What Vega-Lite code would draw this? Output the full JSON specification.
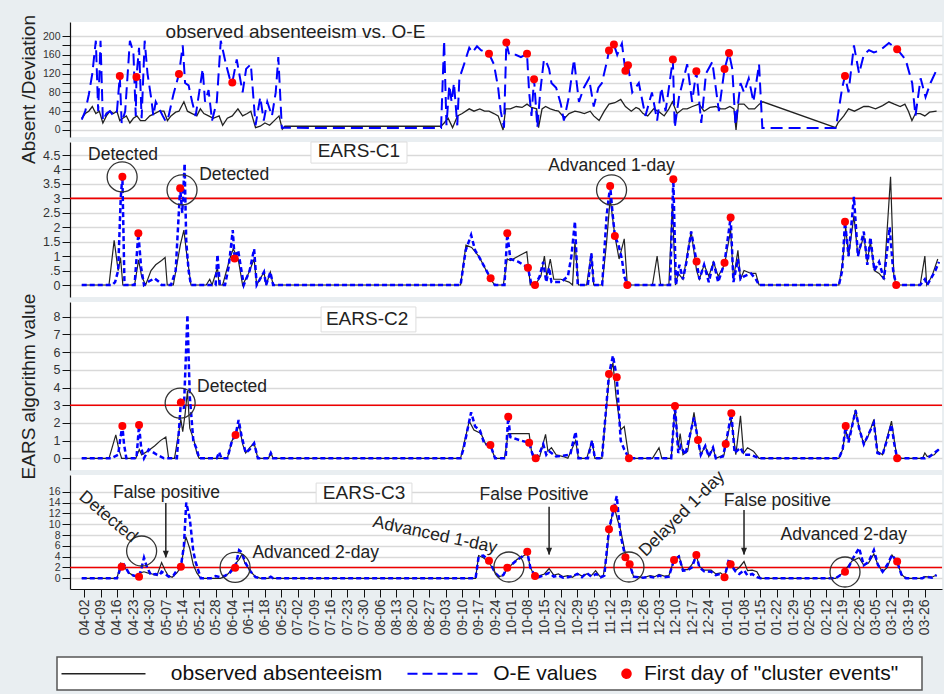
{
"$schema": "https://vega.github.io/schema/vega-lite/v6.json",
"background": "#e9eef1",
"padding": {"left": 18, "top": 14, "right": 0, "bottom": 3},
"config": {
  "view": {"fill": "white", "stroke": null},
  "font": "Liberation Sans",
  "axis": {"domainColor": "#111", "tickColor": "#111", "labelColor": "#333", "labelFont": "Liberation Sans", "titleFont": "Liberation Sans", "titleFontWeight": "normal", "titleColor": "#222", "gridColor": "#d9d9d9", "gridWidth": 1.5, "tickSize": 8, "labelPadding": 2, "domainWidth": 1.2},
  "text": {"font": "Liberation Sans", "color": "#222"}
},
"datasets": {
"p1obs": [{"d":-1,"v":25},{"d":0.5,"v":35},{"d":2,"v":40},{"d":3.5,"v":50},{"d":5,"v":35},{"d":6.5,"v":40},{"d":8,"v":15},{"d":9.5,"v":30},{"d":11,"v":40},{"d":12.5,"v":35},{"d":14,"v":40},{"d":15.2,"v":20},{"d":16.5,"v":25},{"d":18,"v":30},{"d":19.5,"v":15},{"d":21,"v":25},{"d":22.5,"v":30},{"d":24,"v":20},{"d":26,"v":20},{"d":28,"v":30},{"d":30,"v":35},{"d":32,"v":40},{"d":34,"v":40},{"d":35.5,"v":20},{"d":37,"v":30},{"d":39,"v":38},{"d":40.4,"v":40},{"d":42.5,"v":60},{"d":44,"v":40},{"d":46,"v":35},{"d":48,"v":30},{"d":49.5,"v":45},{"d":51,"v":35},{"d":53,"v":30},{"d":55,"v":25},{"d":57.5,"v":30},{"d":59,"v":10},{"d":61,"v":25},{"d":63.1,"v":30},{"d":65.5,"v":45},{"d":67.5,"v":30},{"d":69.5,"v":35},{"d":71,"v":40},{"d":73,"v":5},{"d":75,"v":8},{"d":77,"v":15},{"d":79,"v":10},{"d":81,"v":20},{"d":83,"v":30},{"d":84.4,"v":2},{"d":85.5,"v":8},{"d":100,"v":8},{"d":120,"v":8},{"d":140,"v":8},{"d":152,"v":8},{"d":153.3,"v":15},{"d":155,"v":25},{"d":156.9,"v":5},{"d":159,"v":30},{"d":161,"v":35},{"d":164,"v":45},{"d":166,"v":40},{"d":168.5,"v":45},{"d":170.5,"v":40},{"d":172.4,"v":40},{"d":174.5,"v":35},{"d":176.3,"v":30},{"d":178.4,"v":0},{"d":179.5,"v":45},{"d":181.5,"v":45},{"d":184,"v":50},{"d":186.5,"v":48},{"d":188.6,"v":55},{"d":190.5,"v":48},{"d":192.7,"v":45},{"d":193.5,"v":5},{"d":195,"v":45},{"d":196.5,"v":50},{"d":198.5,"v":45},{"d":200.5,"v":42},{"d":202,"v":40},{"d":204.6,"v":25},{"d":206.5,"v":35},{"d":209,"v":40},{"d":211,"v":38},{"d":213,"v":35},{"d":215.5,"v":40},{"d":217,"v":30},{"d":219.3,"v":20},{"d":221.5,"v":40},{"d":223.5,"v":55},{"d":226,"v":58},{"d":228.5,"v":65},{"d":230.5,"v":50},{"d":233,"v":40},{"d":235,"v":48},{"d":236.3,"v":45},{"d":238,"v":35},{"d":240,"v":30},{"d":242.5,"v":45},{"d":245,"v":38},{"d":247,"v":30},{"d":249,"v":45},{"d":250.5,"v":60},{"d":252.5,"v":35},{"d":255,"v":45},{"d":256.8,"v":45},{"d":259,"v":50},{"d":261.8,"v":55},{"d":264,"v":40},{"d":266.5,"v":48},{"d":269,"v":50},{"d":271,"v":45},{"d":273,"v":45},{"d":275,"v":50},{"d":276.7,"v":45},{"d":277.6,"v":0},{"d":278.6,"v":55},{"d":281,"v":55},{"d":283,"v":45},{"d":285.5,"v":45},{"d":287.5,"v":55},{"d":289,"v":60},{"d":320,"v":5},{"d":321,"v":15},{"d":323.5,"v":30},{"d":325.5,"v":45},{"d":328,"v":40},{"d":330,"v":45},{"d":332,"v":50},{"d":334,"v":50},{"d":337,"v":45},{"d":340,"v":52},{"d":342.7,"v":60},{"d":345,"v":55},{"d":347.5,"v":50},{"d":349.5,"v":55},{"d":351,"v":40},{"d":352.5,"v":20},{"d":354,"v":35},{"d":356,"v":35},{"d":358,"v":30},{"d":360,"v":38},{"d":363,"v":40}],
"p1oe": [{"d":-1,"v":22},{"d":0.5,"v":40},{"d":2,"v":75},{"d":3.5,"v":120},{"d":5,"v":190},{"d":6,"v":40},{"d":7,"v":190},{"d":8,"v":20},{"d":9.5,"v":35},{"d":11,"v":40},{"d":12.5,"v":30},{"d":14,"v":40},{"d":15.2,"v":115},{"d":16,"v":15},{"d":17.5,"v":40},{"d":19.5,"v":190},{"d":21,"v":165},{"d":22,"v":30},{"d":22.3,"v":113},{"d":23.4,"v":175},{"d":24.5,"v":25},{"d":25.8,"v":190},{"d":27,"v":120},{"d":28.5,"v":70},{"d":29.5,"v":30},{"d":30.5,"v":60},{"d":32,"v":45},{"d":33.5,"v":30},{"d":34.8,"v":18},{"d":36,"v":30},{"d":38,"v":75},{"d":40.4,"v":119},{"d":42,"v":180},{"d":43,"v":100},{"d":44.5,"v":95},{"d":46,"v":60},{"d":47.5,"v":30},{"d":49,"v":80},{"d":50.5,"v":130},{"d":51.5,"v":60},{"d":53,"v":85},{"d":54.5,"v":20},{"d":56.5,"v":60},{"d":58.2,"v":190},{"d":60.4,"v":140},{"d":62,"v":110},{"d":63.1,"v":101},{"d":65,"v":150},{"d":67.5,"v":80},{"d":69,"v":130},{"d":71,"v":140},{"d":73,"v":10},{"d":75,"v":70},{"d":76.5,"v":20},{"d":78,"v":60},{"d":80,"v":30},{"d":81.6,"v":80},{"d":82.7,"v":155},{"d":84.2,"v":5},{"d":100,"v":4},{"d":130,"v":4},{"d":152,"v":4},{"d":153.3,"v":190},{"d":154.3,"v":10},{"d":155.5,"v":95},{"d":156.5,"v":60},{"d":157.5,"v":100},{"d":158.9,"v":10},{"d":159.8,"v":110},{"d":161.8,"v":140},{"d":164,"v":175},{"d":165.3,"v":165},{"d":167.3,"v":178},{"d":169,"v":170},{"d":172.4,"v":162},{"d":174.5,"v":140},{"d":176.3,"v":90},{"d":177.4,"v":40},{"d":178.8,"v":5},{"d":179.8,"v":186},{"d":181,"v":160},{"d":183.8,"v":160},{"d":186,"v":155},{"d":188.6,"v":162},{"d":189.5,"v":80},{"d":190.5,"v":30},{"d":191.6,"v":108},{"d":193,"v":5},{"d":194.2,"v":80},{"d":195.8,"v":150},{"d":197.2,"v":140},{"d":198,"v":130},{"d":199,"v":100},{"d":201,"v":90},{"d":203,"v":55},{"d":204.3,"v":20},{"d":206.4,"v":70},{"d":208.6,"v":150},{"d":210.7,"v":60},{"d":212.8,"v":90},{"d":215,"v":110},{"d":217,"v":50},{"d":219,"v":90},{"d":220.5,"v":100},{"d":222.8,"v":150},{"d":223.5,"v":169},{"d":225.6,"v":182},{"d":227,"v":160},{"d":229,"v":184},{"d":230.5,"v":126},{"d":231.6,"v":138},{"d":233.4,"v":80},{"d":236.2,"v":100},{"d":239,"v":30},{"d":241.8,"v":80},{"d":244,"v":20},{"d":245.8,"v":90},{"d":247.6,"v":40},{"d":250.7,"v":150},{"d":251.5,"v":5},{"d":253.3,"v":70},{"d":256.8,"v":140},{"d":258.9,"v":60},{"d":260.7,"v":125},{"d":262.8,"v":15},{"d":264.8,"v":120},{"d":267.5,"v":145},{"d":270.3,"v":40},{"d":272.7,"v":130},{"d":274.6,"v":164},{"d":276,"v":130},{"d":277.4,"v":10},{"d":279.5,"v":100},{"d":281,"v":80},{"d":283,"v":110},{"d":285,"v":60},{"d":287.4,"v":140},{"d":288.8,"v":4},{"d":305,"v":4},{"d":320,"v":4},{"d":320.6,"v":20},{"d":322.8,"v":90},{"d":324,"v":115},{"d":325.5,"v":80},{"d":327.8,"v":180},{"d":330,"v":120},{"d":332,"v":160},{"d":334.2,"v":170},{"d":336.3,"v":165},{"d":339.1,"v":170},{"d":342.7,"v":185},{"d":346.2,"v":172},{"d":349.8,"v":150},{"d":352.6,"v":100},{"d":354,"v":30},{"d":356.2,"v":110},{"d":358.3,"v":70},{"d":360.4,"v":100},{"d":363.2,"v":130}],
"p1pts": [{"d":15.2,"v":115},{"d":22.3,"v":113},{"d":40.4,"v":119},{"d":63.1,"v":101},{"d":172.4,"v":162},{"d":179.8,"v":186},{"d":188.6,"v":162},{"d":191.6,"v":108},{"d":223.5,"v":169},{"d":225.6,"v":182},{"d":230.5,"v":126},{"d":231.6,"v":138},{"d":250.7,"v":150},{"d":260.7,"v":125},{"d":272.7,"v":130},{"d":274.6,"v":164},{"d":324,"v":115},{"d":346.2,"v":172}],
"c1obs": [{"d":-1,"v":0},{"d":10.6,"v":0},{"d":12.8,"v":1.55},{"d":14.5,"v":0.5},{"d":15.5,"v":0.95},{"d":16.5,"v":0},{"d":21.5,"v":0},{"d":23.2,"v":0.87},{"d":24.5,"v":0.3},{"d":26.2,"v":0},{"d":28.5,"v":0.5},{"d":30.5,"v":0.7},{"d":33,"v":0.85},{"d":34.5,"v":0.95},{"d":35.4,"v":0},{"d":38,"v":0},{"d":41,"v":1.4},{"d":42.5,"v":1.9},{"d":43.5,"v":1.2},{"d":45.5,"v":0},{"d":52,"v":0},{"d":53.5,"v":0.2},{"d":54.5,"v":0},{"d":56.8,"v":0.6},{"d":57.5,"v":0},{"d":59,"v":0},{"d":62,"v":0.9},{"d":63.5,"v":1.25},{"d":65.6,"v":0.9},{"d":67.5,"v":0},{"d":70,"v":0.4},{"d":72.4,"v":0.9},{"d":73.5,"v":0},{"d":76.6,"v":0.45},{"d":77.5,"v":0},{"d":79.3,"v":0.45},{"d":80.5,"v":0},{"d":160.3,"v":0},{"d":162.6,"v":1.38},{"d":165,"v":1.3},{"d":168,"v":1},{"d":170,"v":0.7},{"d":173,"v":0.2},{"d":174.9,"v":0},{"d":178.5,"v":0},{"d":180.2,"v":0.9},{"d":181.5,"v":0.85},{"d":186,"v":1.05},{"d":188.5,"v":1.15},{"d":190,"v":0},{"d":192,"v":0},{"d":194.5,"v":0.3},{"d":196,"v":1},{"d":197,"v":0.3},{"d":198.5,"v":0.9},{"d":200,"v":0.2},{"d":203,"v":0.2},{"d":206.5,"v":0.1},{"d":208,"v":0},{"d":209,"v":1.5},{"d":210.5,"v":0},{"d":214,"v":0},{"d":216,"v":1.1},{"d":217,"v":0},{"d":220.6,"v":0},{"d":222.5,"v":1.5},{"d":224,"v":3},{"d":226,"v":1.7},{"d":227.8,"v":0.9},{"d":230,"v":1.6},{"d":231.3,"v":0},{"d":242,"v":0},{"d":244,"v":1},{"d":245.5,"v":0},{"d":249,"v":0},{"d":250.5,"v":2.8},{"d":251.8,"v":0},{"d":253,"v":0.4},{"d":255,"v":0.2},{"d":258.5,"v":1.85},{"d":260.8,"v":0.5},{"d":262,"v":0.2},{"d":264,"v":0.7},{"d":266,"v":0.3},{"d":268,"v":0.8},{"d":270,"v":0.3},{"d":272.7,"v":0.7},{"d":275.3,"v":1.9},{"d":276.5,"v":0.2},{"d":278.4,"v":1.2},{"d":279.5,"v":0.2},{"d":281,"v":0.5},{"d":284,"v":0.4},{"d":286,"v":0.4},{"d":287.4,"v":0},{"d":321.4,"v":0},{"d":323,"v":0.8},{"d":324.3,"v":2},{"d":325.5,"v":1},{"d":327.8,"v":2.4},{"d":329.5,"v":1},{"d":332,"v":1.7},{"d":333.5,"v":0.8},{"d":334.8,"v":1.5},{"d":336.5,"v":0.5},{"d":338.5,"v":0.4},{"d":340.6,"v":0.2},{"d":343.4,"v":3.75},{"d":344.8,"v":0.3},{"d":345.8,"v":0},{"d":356,"v":0},{"d":358,"v":1},{"d":358.8,"v":0},{"d":361,"v":0.3},{"d":363.5,"v":0.9}],
"c1oe": [{"d":-1,"v":0},{"d":12,"v":0},{"d":13.2,"v":0.1},{"d":14.5,"v":0.5},{"d":15.6,"v":3},{"d":16.3,"v":3.75},{"d":17.2,"v":0},{"d":21.5,"v":0},{"d":23.1,"v":1.79},{"d":24.3,"v":0.6},{"d":25.5,"v":0},{"d":27,"v":0.1},{"d":30,"v":0.23},{"d":32,"v":0.1},{"d":33,"v":0},{"d":37,"v":0},{"d":39,"v":0.5},{"d":40.9,"v":3.35},{"d":41.8,"v":2.5},{"d":42.8,"v":4.2},{"d":43.5,"v":1.5},{"d":44.5,"v":0.5},{"d":45.5,"v":0},{"d":56,"v":0},{"d":56.8,"v":1.05},{"d":57.8,"v":0},{"d":60,"v":0},{"d":61.5,"v":0.6},{"d":62.5,"v":1.3},{"d":63.3,"v":1.9},{"d":64.1,"v":0.92},{"d":65.6,"v":1.2},{"d":68,"v":0},{"d":70.5,"v":0.5},{"d":72.4,"v":1.25},{"d":73.5,"v":0},{"d":76.6,"v":0.45},{"d":77.5,"v":0},{"d":79.3,"v":0.45},{"d":80.5,"v":0},{"d":160.3,"v":0},{"d":162.5,"v":1.2},{"d":164.8,"v":1.73},{"d":166.5,"v":1.2},{"d":168,"v":1},{"d":170,"v":0.7},{"d":173.1,"v":0.23},{"d":174.9,"v":0},{"d":179,"v":0},{"d":180.2,"v":1.79},{"d":181.5,"v":0.9},{"d":185,"v":0.8},{"d":189,"v":0.6},{"d":190.5,"v":0},{"d":192,"v":0},{"d":194,"v":0.3},{"d":195.5,"v":0.8},{"d":196.8,"v":0.1},{"d":198,"v":0.6},{"d":199,"v":0.1},{"d":203,"v":0.1},{"d":206,"v":0.3},{"d":207.5,"v":1},{"d":209,"v":2.2},{"d":210.2,"v":0},{"d":214.5,"v":0},{"d":216,"v":1.1},{"d":217,"v":0},{"d":220.6,"v":0},{"d":222.5,"v":2.4},{"d":224,"v":3.43},{"d":225,"v":2.5},{"d":226,"v":1.7},{"d":227.5,"v":1.4},{"d":229,"v":0.9},{"d":230,"v":0.3},{"d":231.3,"v":0},{"d":249.5,"v":0},{"d":250.9,"v":3.66},{"d":252,"v":0},{"d":253.5,"v":0.7},{"d":255,"v":0.2},{"d":256.5,"v":0.8},{"d":258.5,"v":1.85},{"d":260.8,"v":0.81},{"d":262,"v":0.2},{"d":264,"v":0.7},{"d":266,"v":0.1},{"d":268,"v":0.8},{"d":270,"v":0.1},{"d":272.7,"v":0.77},{"d":275.3,"v":2.34},{"d":276.5,"v":0.1},{"d":278.4,"v":0.9},{"d":279.5,"v":0.2},{"d":281,"v":0.3},{"d":284,"v":0.4},{"d":286,"v":0.2},{"d":287.4,"v":0},{"d":321.4,"v":0},{"d":322.8,"v":0.5},{"d":324,"v":2.19},{"d":325.5,"v":1},{"d":327.8,"v":3.05},{"d":329.5,"v":1},{"d":332,"v":1.85},{"d":333.5,"v":0.7},{"d":334.8,"v":1.65},{"d":336.5,"v":0.5},{"d":338.5,"v":0.8},{"d":340.6,"v":0.2},{"d":343,"v":2},{"d":344.5,"v":0.5},{"d":345.8,"v":0},{"d":356,"v":0},{"d":358,"v":0.2},{"d":359,"v":0},{"d":362.5,"v":0.5},{"d":364,"v":0.8}],
"c1pts": [{"d":16.3,"v":3.75},{"d":23.1,"v":1.79},{"d":40.9,"v":3.35},{"d":64.1,"v":0.92},{"d":173.1,"v":0.23},{"d":180.2,"v":1.79},{"d":189,"v":0.6},{"d":192,"v":0},{"d":224,"v":3.43},{"d":226,"v":1.7},{"d":231.3,"v":0},{"d":250.9,"v":3.66},{"d":260.8,"v":0.81},{"d":272.7,"v":0.77},{"d":275.3,"v":2.34},{"d":324,"v":2.19},{"d":345.8,"v":0}],
"c2obs": [{"d":-1,"v":0},{"d":10.6,"v":0},{"d":13.5,"v":1.32},{"d":14.8,"v":0.5},{"d":16,"v":0},{"d":22,"v":0},{"d":23.5,"v":0.5},{"d":24.5,"v":0.2},{"d":27,"v":0.4},{"d":30,"v":0.7},{"d":32.5,"v":1},{"d":34.8,"v":1.2},{"d":36,"v":0},{"d":38.5,"v":0},{"d":41.2,"v":2.2},{"d":42,"v":1.5},{"d":43,"v":2.5},{"d":44,"v":3.8},{"d":45,"v":1.7},{"d":46.8,"v":1},{"d":48,"v":0.3},{"d":49,"v":0},{"d":61,"v":0},{"d":63,"v":1},{"d":64.5,"v":1.3},{"d":66,"v":1.9},{"d":67.5,"v":0.8},{"d":68.8,"v":0.3},{"d":70.5,"v":0.6},{"d":72.4,"v":0.85},{"d":74,"v":0},{"d":78.5,"v":0},{"d":79.5,"v":0.3},{"d":80.5,"v":0},{"d":160.3,"v":0},{"d":164,"v":2.1},{"d":166,"v":1.6},{"d":169,"v":1.4},{"d":171,"v":0.8},{"d":173,"v":0.7},{"d":175,"v":0},{"d":179,"v":0},{"d":180.6,"v":1.4},{"d":181.5,"v":1.4},{"d":189.5,"v":1.4},{"d":190.5,"v":0.4},{"d":192.3,"v":0},{"d":194,"v":0.1},{"d":196.5,"v":1.35},{"d":197.5,"v":0.4},{"d":199,"v":0.6},{"d":201,"v":0.2},{"d":204,"v":0.1},{"d":206,"v":0},{"d":209.3,"v":1},{"d":210.5,"v":0},{"d":214,"v":0},{"d":216.3,"v":1},{"d":217.5,"v":0},{"d":220.5,"v":0},{"d":223.5,"v":4.5},{"d":225.2,"v":5.4},{"d":226.5,"v":3.5},{"d":228.5,"v":1.6},{"d":230,"v":1.8},{"d":232,"v":0},{"d":242,"v":0},{"d":244.8,"v":0.6},{"d":246,"v":0},{"d":250,"v":0},{"d":251.6,"v":2.9},{"d":253,"v":0.6},{"d":253.8,"v":1.4},{"d":255,"v":0.2},{"d":257,"v":0.4},{"d":259.7,"v":2.6},{"d":261.4,"v":1},{"d":262.6,"v":0.2},{"d":264.5,"v":0.7},{"d":266,"v":0.1},{"d":267.8,"v":0.6},{"d":269,"v":0},{"d":272.5,"v":0.2},{"d":273.2,"v":0.8},{"d":275.6,"v":2.2},{"d":277.5,"v":0.2},{"d":279.5,"v":2.4},{"d":280.8,"v":0.3},{"d":282.5,"v":0.6},{"d":285,"v":0.4},{"d":287.4,"v":0},{"d":321.4,"v":0},{"d":323,"v":0.5},{"d":324.3,"v":1.6},{"d":325.5,"v":1},{"d":328.5,"v":2.75},{"d":330,"v":1.7},{"d":332,"v":0.8},{"d":334,"v":1.3},{"d":336.3,"v":2.2},{"d":337.8,"v":0.4},{"d":340,"v":0.2},{"d":343.8,"v":2.1},{"d":345,"v":1},{"d":346.2,"v":0},{"d":357,"v":0},{"d":358,"v":0.3},{"d":359,"v":0.1},{"d":362,"v":0.2},{"d":364,"v":0.5}],
"c2oe": [{"d":-1,"v":0},{"d":11.5,"v":0},{"d":14.5,"v":0.2},{"d":15.3,"v":1},{"d":16.3,"v":1.85},{"d":17,"v":0.8},{"d":18,"v":0},{"d":22.3,"v":0},{"d":23.4,"v":1.88},{"d":24.3,"v":0.6},{"d":25.5,"v":0},{"d":27.5,"v":0.5},{"d":31,"v":0.2},{"d":34,"v":0},{"d":39.5,"v":0},{"d":40.5,"v":1.8},{"d":41.2,"v":3.16},{"d":42.5,"v":2.8},{"d":44,"v":8.1},{"d":45,"v":3.5},{"d":46.5,"v":1},{"d":48,"v":0.5},{"d":49,"v":0},{"d":56.5,"v":0},{"d":57.5,"v":0.35},{"d":58.5,"v":0},{"d":61,"v":0},{"d":63,"v":1},{"d":64.5,"v":1.32},{"d":65.8,"v":2.17},{"d":67,"v":1.3},{"d":68.8,"v":0.3},{"d":70.5,"v":0.5},{"d":72.4,"v":0.85},{"d":74,"v":0},{"d":78.5,"v":0},{"d":79.5,"v":0.3},{"d":80.5,"v":0},{"d":160.3,"v":0},{"d":161.5,"v":0.5},{"d":164.8,"v":2.6},{"d":166.5,"v":1.8},{"d":168.5,"v":1.6},{"d":170.5,"v":0.8},{"d":173,"v":0.75},{"d":175,"v":0},{"d":179.5,"v":0},{"d":180.6,"v":2.35},{"d":181.5,"v":1.2},{"d":186,"v":1},{"d":189.5,"v":0.88},{"d":191,"v":0.2},{"d":192.3,"v":0},{"d":194,"v":0.3},{"d":195.5,"v":0.8},{"d":196.8,"v":0.2},{"d":198,"v":0.4},{"d":201,"v":0.1},{"d":207,"v":0.2},{"d":208,"v":0.8},{"d":209.3,"v":1.5},{"d":210.5,"v":0},{"d":214.5,"v":0},{"d":216.3,"v":1},{"d":217.5,"v":0},{"d":220.5,"v":0},{"d":223.5,"v":4.76},{"d":225.2,"v":5.8},{"d":226.8,"v":4.58},{"d":228.5,"v":1},{"d":230,"v":0.5},{"d":232,"v":0},{"d":250,"v":0},{"d":251.6,"v":2.96},{"d":253,"v":0.3},{"d":254,"v":0.7},{"d":256,"v":0.2},{"d":259.7,"v":2.3},{"d":261.4,"v":1.04},{"d":262.6,"v":0.2},{"d":264.5,"v":0.7},{"d":266,"v":0.1},{"d":267.8,"v":0.6},{"d":269,"v":0},{"d":272,"v":0.1},{"d":273.2,"v":0.81},{"d":275.6,"v":2.54},{"d":277,"v":0.3},{"d":279.5,"v":0.6},{"d":281,"v":0.2},{"d":284,"v":0.2},{"d":287.4,"v":0},{"d":321.4,"v":0},{"d":323,"v":0.5},{"d":324.3,"v":1.83},{"d":325.5,"v":0.9},{"d":328.5,"v":2.7},{"d":330,"v":1.7},{"d":332,"v":0.8},{"d":334.5,"v":1.5},{"d":336.3,"v":2},{"d":337.8,"v":0.3},{"d":340,"v":0.2},{"d":343.8,"v":1.9},{"d":345,"v":0.8},{"d":346.2,"v":0},{"d":358,"v":0},{"d":360,"v":0.1},{"d":364,"v":0.5}],
"c2pts": [{"d":16.3,"v":1.83},{"d":23.4,"v":1.88},{"d":41.2,"v":3.16},{"d":64.5,"v":1.32},{"d":173,"v":0.75},{"d":180.6,"v":2.35},{"d":189.5,"v":0.88},{"d":192.3,"v":0},{"d":223.5,"v":4.76},{"d":226.8,"v":4.58},{"d":232,"v":0},{"d":251.6,"v":2.96},{"d":261.4,"v":1.04},{"d":273.2,"v":0.81},{"d":275.6,"v":2.54},{"d":324.3,"v":1.83},{"d":346.2,"v":0}],
"c3obs": [{"d":-1,"v":0},{"d":14,"v":0},{"d":15.6,"v":2.8},{"d":17,"v":2.2},{"d":19,"v":1},{"d":21,"v":0.5},{"d":22.6,"v":0.3},{"d":24,"v":1},{"d":25.5,"v":1.2},{"d":27,"v":1},{"d":29,"v":0.8},{"d":31,"v":0.5},{"d":33,"v":2.9},{"d":34.5,"v":1.5},{"d":35.8,"v":0.5},{"d":37.5,"v":0.2},{"d":39.5,"v":1},{"d":41.2,"v":2},{"d":43.3,"v":7.7},{"d":45,"v":5.5},{"d":46.5,"v":2.5},{"d":48,"v":1},{"d":49.7,"v":0},{"d":58,"v":0},{"d":60,"v":0.3},{"d":61.7,"v":1},{"d":63.5,"v":2.2},{"d":66,"v":3.5},{"d":67.2,"v":4.4},{"d":68.5,"v":2.8},{"d":71,"v":1.2},{"d":73,"v":0.3},{"d":75.2,"v":0},{"d":78.5,"v":0},{"d":79.5,"v":0.3},{"d":80.5,"v":0},{"d":166.7,"v":0},{"d":168,"v":4.2},{"d":170,"v":3.8},{"d":172.4,"v":3},{"d":175,"v":1},{"d":176.7,"v":0.3},{"d":178.5,"v":0.5},{"d":180.2,"v":1.8},{"d":182,"v":2.5},{"d":184.4,"v":3.5},{"d":186.5,"v":4},{"d":188.7,"v":4.6},{"d":190,"v":2},{"d":192,"v":0.3},{"d":194,"v":0.5},{"d":196,"v":0.8},{"d":198,"v":1.8},{"d":200,"v":0.6},{"d":202,"v":0.8},{"d":204,"v":0.3},{"d":206,"v":0.5},{"d":208,"v":0.2},{"d":210,"v":0.9},{"d":212,"v":0.4},{"d":214,"v":0.8},{"d":216,"v":0.5},{"d":217.8,"v":1.4},{"d":219.5,"v":0.4},{"d":221,"v":0.3},{"d":222.5,"v":4},{"d":223.5,"v":8.5},{"d":225.6,"v":13.5},{"d":227,"v":11},{"d":228.4,"v":9},{"d":230.5,"v":4.5},{"d":232.3,"v":2.4},{"d":234,"v":0.3},{"d":236,"v":0.3},{"d":238,"v":0.1},{"d":241,"v":0.5},{"d":243,"v":0.3},{"d":244.8,"v":0.7},{"d":247,"v":0.4},{"d":249,"v":0.5},{"d":251.2,"v":3.4},{"d":253.3,"v":4.2},{"d":255,"v":1.6},{"d":257,"v":1.6},{"d":258.8,"v":2.5},{"d":260.7,"v":4.2},{"d":262,"v":2.2},{"d":264,"v":1.5},{"d":267,"v":1.5},{"d":269,"v":0.8},{"d":271,"v":1},{"d":272.7,"v":0.4},{"d":274.6,"v":3},{"d":275.3,"v":2.4},{"d":277.5,"v":1.5},{"d":279,"v":2},{"d":281,"v":3.1},{"d":282.5,"v":1.4},{"d":284.5,"v":1.5},{"d":286.5,"v":1.2},{"d":288,"v":0},{"d":320,"v":0},{"d":322.8,"v":0.9},{"d":324,"v":1.5},{"d":327,"v":3.2},{"d":330,"v":3.8},{"d":332,"v":2.4},{"d":334,"v":2.8},{"d":336.3,"v":4.5},{"d":338,"v":2.5},{"d":340,"v":1.2},{"d":342,"v":2},{"d":344,"v":4.3},{"d":346.2,"v":3},{"d":348,"v":0.7},{"d":350,"v":0},{"d":357,"v":0},{"d":358,"v":0.3},{"d":361,"v":0.2},{"d":363,"v":0.6}],
"c3oe": [{"d":-1,"v":0},{"d":14,"v":0},{"d":15.2,"v":1.5},{"d":16,"v":2.15},{"d":17,"v":2.5},{"d":19,"v":1},{"d":21,"v":0.5},{"d":23.4,"v":0.3},{"d":24.5,"v":2},{"d":25.5,"v":3.8},{"d":26.8,"v":2},{"d":28.5,"v":0.6},{"d":30.5,"v":0.8},{"d":32,"v":0.5},{"d":33,"v":1.2},{"d":34.5,"v":0.8},{"d":36,"v":0.3},{"d":38,"v":0.5},{"d":39.5,"v":1.5},{"d":41.2,"v":2.15},{"d":42.5,"v":6},{"d":43.5,"v":14},{"d":45,"v":11},{"d":46.5,"v":5},{"d":47.5,"v":3},{"d":49.7,"v":0},{"d":54,"v":0},{"d":56,"v":0.4},{"d":58,"v":0.2},{"d":60,"v":0.5},{"d":61.7,"v":0.8},{"d":63,"v":1.5},{"d":64.3,"v":1.97},{"d":66,"v":5.2},{"d":67.2,"v":4.8},{"d":68.5,"v":3},{"d":71,"v":1.2},{"d":73,"v":0.2},{"d":75.2,"v":0},{"d":78.5,"v":0},{"d":79.5,"v":0.3},{"d":80.5,"v":0},{"d":166.7,"v":0},{"d":168,"v":4},{"d":170,"v":4.2},{"d":172.4,"v":3.26},{"d":175,"v":1},{"d":176.7,"v":0.3},{"d":178.5,"v":0.6},{"d":180.2,"v":1.97},{"d":182,"v":2.5},{"d":184.4,"v":3.4},{"d":186.5,"v":4},{"d":188.7,"v":4.92},{"d":190,"v":2},{"d":192,"v":0.43},{"d":193.5,"v":0.2},{"d":196,"v":0.6},{"d":198,"v":1},{"d":200,"v":0.3},{"d":202,"v":0.5},{"d":204,"v":0.1},{"d":206,"v":0.2},{"d":208,"v":0.4},{"d":210,"v":0.8},{"d":212,"v":0.2},{"d":214,"v":1},{"d":216,"v":0.3},{"d":218,"v":0.8},{"d":220,"v":0.2},{"d":221.5,"v":0.5},{"d":223.5,"v":9.05},{"d":225.6,"v":12.9},{"d":226.8,"v":15.2},{"d":228.4,"v":8},{"d":230.5,"v":3.88},{"d":232.3,"v":2.58},{"d":234,"v":0.3},{"d":236,"v":0.2},{"d":238,"v":0.1},{"d":241,"v":0.3},{"d":243,"v":0.1},{"d":244.8,"v":0.5},{"d":247,"v":0.2},{"d":249,"v":0.3},{"d":251.2,"v":3.38},{"d":253.3,"v":4},{"d":255,"v":1.4},{"d":257,"v":1.5},{"d":258.8,"v":2},{"d":260.7,"v":4.3},{"d":262,"v":2},{"d":264,"v":1.3},{"d":267,"v":1.2},{"d":269,"v":0.6},{"d":271,"v":0.8},{"d":272.7,"v":0.18},{"d":274.6,"v":3.6},{"d":275.3,"v":2.58},{"d":277.5,"v":1.2},{"d":279,"v":0.8},{"d":281,"v":1.5},{"d":282.5,"v":0.5},{"d":284.5,"v":0.8},{"d":286.5,"v":0.2},{"d":288,"v":0},{"d":320,"v":0},{"d":322.8,"v":0.8},{"d":324,"v":1.23},{"d":325.5,"v":2},{"d":327,"v":3.4},{"d":330,"v":5.6},{"d":332,"v":2.4},{"d":334,"v":3},{"d":336.3,"v":5.2},{"d":338,"v":2.5},{"d":340,"v":1.2},{"d":342,"v":2.5},{"d":344,"v":4.3},{"d":346.2,"v":3.08},{"d":348,"v":0.7},{"d":350,"v":0},{"d":357,"v":0},{"d":358,"v":0.3},{"d":361,"v":0.1},{"d":363,"v":0.6}],
"c3pts": [{"d":16,"v":2.15},{"d":23.4,"v":0.3},{"d":41.2,"v":2.15},{"d":64.3,"v":1.97},{"d":172.4,"v":3.26},{"d":180.2,"v":1.97},{"d":188.7,"v":4.92},{"d":192,"v":0.43},{"d":223.5,"v":9.05},{"d":225.6,"v":12.9},{"d":230.5,"v":3.88},{"d":232.3,"v":2.58},{"d":251.2,"v":3.38},{"d":260.7,"v":4.3},{"d":272.7,"v":0.18},{"d":275.3,"v":2.58},{"d":324,"v":1.23},{"d":346.2,"v":3.08}]
},
"vconcat": [
{
  "width": 872, "height": 115,
  "encoding": {
    "x": {"field": "d", "type": "quantitative", "scale": {"domain": [-6, 365.3], "nice": false, "zero": false}, "axis": null},
    "y": {"field": "v", "type": "quantitative", "scale": {"domain": [-14.9, 229.8], "nice": false, "zero": false},
          "axis": {"values": [0,20,40,60,80,100,120,140,160,180,200], "title": "Absent /Deviation", "titleFontSize": 19, "labelFontSize": 10.5, "minExtent": 28, "maxExtent": 28, "titlePadding": 4, "titleY": 67, "grid": true}}
  },
  "layer": [
    {"data": {"name": "p1obs"}, "mark": {"type": "line", "strokeWidth": 1.3},
     "encoding": {"color": {"datum": "observed absenteeism", "type": "nominal",
        "scale": {"domain": ["observed absenteeism", "O-E values", "First day of \"cluster events\""], "range": ["#222222", "#0000ff", "#ff0000"]},
        "legend": {"orient": "none", "legendX": -13, "legendY": 635, "direction": "horizontal", "columns": 3, "title": null,
          "labelFont": "Liberation Sans", "labelFontSize": 21, "labelColor": "#111", "labelLimit": 600, "labelOffset": 11,
          "labelExpr": "datum.value === 'observed absenteeism' ? '\u200b\u00a0\u00a0\u00a0\u00a0\u00a0\u00a0\u00a0\u00a0\u00a0\u00a0\u00a0\u00a0\u00a0observed absenteeism' : datum.value === 'O-E values' ? '\u200b\u00a0\u00a0\u00a0\u00a0\u00a0\u00a0\u00a0\u00a0\u00a0\u00a0\u00a0O-E values' : datum.label + '\u00a0\u00a0\u00a0\u200b'",
          "symbolSize": 4096, "columnPadding": 14, "padding": 6, "strokeColor": "#555", "fillColor": "#ffffff", "symbolStrokeWidth": 1.6,
          "encode": {
            "legend": {"update": {"stroke": {"value": "#555555"}, "strokeWidth": {"value": 1.5}, "fill": {"value": "#ffffff"}}},
            "symbols": {"update": {
            "shape": {"signal": "datum.value === 'observed absenteeism' ? 'M-0.375,0H2.25' : datum.value === 'O-E values' ? 'M0,0H2.34' : 'M0.265,0A0.14,0.14,0,1,1,-0.015,0A0.14,0.14,0,1,1,0.265,0Z'"},
            "fill": {"signal": "datum.value === 'observed absenteeism' || datum.value === 'O-E values' ? 'transparent' : '#ff0000'"},
            "stroke": {"signal": "datum.value === 'observed absenteeism' ? '#222222' : datum.value === 'O-E values' ? '#0000ff' : 'transparent'"},
            "strokeDash": {"signal": "datum.value === 'O-E values' ? [10,5] : [1,0]"},
            "strokeWidth": {"signal": "datum.value === 'O-E values' ? 2.2 : 1.5"},
            "opacity": {"value": 1}
          }}}}}}},
    {"data": {"name": "p1oe"}, "mark": {"type": "line", "strokeWidth": 2, "strokeDash": [12, 6]},
     "encoding": {"color": {"datum": "O-E values", "type": "nominal"}}},
    {"data": {"name": "p1pts"}, "mark": {"type": "circle", "size": 64, "opacity": 1},
     "encoding": {"color": {"datum": "First day of \"cluster events\"", "type": "nominal"}}},
    {"data": {"values": [{"d": 90, "v": 208, "t": "observed absenteeism vs. O-E"}]}, "mark": {"type": "text", "fontSize": 19},
     "encoding": {"text": {"field": "t"}}}
  ]
},
{
  "width": 872, "height": 155,
  "encoding": {
    "x": {"field": "d", "type": "quantitative", "scale": {"domain": [-6, 365.3], "nice": false, "zero": false}, "axis": null},
    "y": {"field": "v", "type": "quantitative", "scale": {"domain": [-0.415, 4.95], "nice": false, "zero": false},
          "axis": {"values": [0,0.5,1,1.5,2,2.5,3,3.5,4,4.5], "labelExpr": "datum.value == 0.5 ? '.5' : format(datum.value, '~g')", "title": "\u00a0", "titleFontSize": 19, "labelFontSize": 12.5, "minExtent": 28, "maxExtent": 28, "titlePadding": 4, "grid": true}}
  },
  "layer": [
    {"data": {"values": [{"d": 96.6, "d2": 137.5, "v": 4.95, "v2": 4.22}]}, "mark": {"type": "rect", "fill": "#ffffff", "stroke": "#dddddd", "strokeWidth": 1}, "encoding": {"x2": {"field": "d2"}, "y2": {"field": "v2"}}},
    {"data": {"values": [{"d": -6, "v": 3}, {"d": 365.3, "v": 3}]}, "mark": {"type": "line", "color": "#ee0000", "strokeWidth": 1.6}, "encoding": {}},
    {"data": {"name": "c1obs"}, "mark": {"type": "line", "color": "#222222", "strokeWidth": 1.2}, "encoding": {}},
    {"data": {"name": "c1oe"}, "mark": {"type": "line", "color": "#0000ff", "strokeWidth": 2.5, "strokeDash": [5, 3]}, "encoding": {}},
    {"data": {"name": "c1pts"}, "mark": {"type": "circle", "size": 64, "opacity": 1, "color": "#ff0000"}, "encoding": {}},
    {"data": {"values": [{"d": 16.2, "v": 3.74}, {"d": 41.7, "v": 3.29}, {"d": 224.6, "v": 3.29}]}, "mark": {"type": "point", "shape": "circle", "size": 900, "filled": false, "color": "#333333", "strokeWidth": 1.3, "opacity": 1}, "encoding": {}},
    {"data": {"values": [{"d": 117, "v": 4.64, "t": "EARS-C1"}]}, "mark": {"type": "text", "fontSize": 19}, "encoding": {"text": {"field": "t"}}},
    {"data": {"values": [{"d": 16.6, "v": 4.5, "t": "Detected"}, {"d": 63.9, "v": 3.81, "t": "Detected"}, {"d": 224.6, "v": 4.12, "t": "Advanced 1-day"}]}, "mark": {"type": "text", "fontSize": 17.5}, "encoding": {"text": {"field": "t"}}}
  ]
},
{
  "width": 872, "height": 168,
  "encoding": {
    "x": {"field": "d", "type": "quantitative", "scale": {"domain": [-6, 365.3], "nice": false, "zero": false}, "axis": null},
    "y": {"field": "v", "type": "quantitative", "scale": {"domain": [-0.66, 8.83], "nice": false, "zero": false},
          "axis": {"values": [0,1,2,3,4,5,6,7,8], "title": "EARS algorithm value", "titleFontSize": 19, "labelFontSize": 12.5, "minExtent": 28, "maxExtent": 28, "titlePadding": 4, "grid": true}}
  },
  "layer": [
    {"data": {"values": [{"d": 100.9, "d2": 141.3, "v": 8.55, "v2": 7.14}]}, "mark": {"type": "rect", "fill": "#ffffff", "stroke": "#dddddd", "strokeWidth": 1}, "encoding": {"x2": {"field": "d2"}, "y2": {"field": "v2"}}},
    {"data": {"values": [{"d": -6, "v": 3}, {"d": 365.3, "v": 3}]}, "mark": {"type": "line", "color": "#ee0000", "strokeWidth": 1.6}, "encoding": {}},
    {"data": {"name": "c2obs"}, "mark": {"type": "line", "color": "#222222", "strokeWidth": 1.2}, "encoding": {}},
    {"data": {"name": "c2oe"}, "mark": {"type": "line", "color": "#0000ff", "strokeWidth": 2.5, "strokeDash": [5, 3]}, "encoding": {}},
    {"data": {"name": "c2pts"}, "mark": {"type": "circle", "size": 64, "opacity": 1, "color": "#ff0000"}, "encoding": {}},
    {"data": {"values": [{"d": 40.9, "v": 3.12}]}, "mark": {"type": "point", "shape": "circle", "size": 900, "filled": false, "color": "#333333", "strokeWidth": 1.3, "opacity": 1}, "encoding": {}},
    {"data": {"values": [{"d": 120.5, "v": 7.87, "t": "EARS-C2"}]}, "mark": {"type": "text", "fontSize": 19}, "encoding": {"text": {"field": "t"}}},
    {"data": {"values": [{"d": 63, "v": 4.03, "t": "Detected"}]}, "mark": {"type": "text", "fontSize": 17.5}, "encoding": {"text": {"field": "t"}}}
  ]
},
{
  "width": 872, "height": 114,
  "encoding": {
    "x": {"field": "d", "type": "quantitative", "scale": {"domain": [-6, 365.3], "nice": false, "zero": false},
          "axis": {"values": [0,7,14,21,28,35,42,49,56,63,70,77,84,91,98,105,112,119,126,133,140,147,154,161,168,175,182,189,196,203,210,217,224,231,238,245,252,259,266,274,281,288,295,302,309,316,323,330,337,344,351,358],
                   "labelExpr": "timeFormat(datetime(2012, 3, 2 + datum.value), '%m-%d')", "labelAngle": -90, "labelFontSize": 14, "labelColor": "#333", "tickSize": 8, "grid": false, "title": null, "labelPadding": 2, "labelOverlap": false, "labelBound": false, "labelFlush": false}},
    "y": {"field": "v", "type": "quantitative", "scale": {"domain": [-1.98, 19.09], "nice": false, "zero": false},
          "axis": {"values": [0,2,4,6,8,10,12,14,16], "title": "\u00a0", "titleFontSize": 19, "labelFontSize": 10.5, "minExtent": 28, "maxExtent": 28, "titlePadding": 4, "grid": true}}
  },
  "layer": [
    {"data": {"values": [{"d": 98.8, "d2": 139.6, "v": 17.6, "v2": 13.9}]}, "mark": {"type": "rect", "fill": "#ffffff", "stroke": "#dddddd", "strokeWidth": 1}, "encoding": {"x2": {"field": "d2"}, "y2": {"field": "v2"}}},
    {"data": {"values": [{"d": -6, "v": 2}, {"d": 365.3, "v": 2}]}, "mark": {"type": "line", "color": "#ee0000", "strokeWidth": 1.6}, "encoding": {}},
    {"data": {"name": "c3obs"}, "mark": {"type": "line", "color": "#222222", "strokeWidth": 1.2}, "encoding": {}},
    {"data": {"name": "c3oe"}, "mark": {"type": "line", "color": "#0000ff", "strokeWidth": 2.5, "strokeDash": [5, 3]}, "encoding": {}},
    {"data": {"name": "c3pts"}, "mark": {"type": "circle", "size": 64, "opacity": 1, "color": "#ff0000"}, "encoding": {}},
    {"data": {"values": [{"d": 24.5, "v": 5.04}, {"d": 64.3, "v": 2.0}, {"d": 180.9, "v": 2.09}, {"d": 232, "v": 2.09}, {"d": 324, "v": 1.16}]}, "mark": {"type": "point", "shape": "circle", "size": 900, "filled": false, "color": "#333333", "strokeWidth": 1.3, "opacity": 1}, "encoding": {}},
    {"data": {"values": [{"d": 34.8, "v": 13.9, "v2": 3.9}, {"d": 198, "v": 13.2, "v2": 4.4}, {"d": 281, "v": 12.6, "v2": 4.4}]}, "mark": {"type": "rule", "color": "#222222", "strokeWidth": 1.5}, "encoding": {"y2": {"field": "v2"}}},
    {"data": {"values": [{"d": 34.8, "v": 3.75}, {"d": 198, "v": 4.3}, {"d": 281, "v": 4.3}]}, "mark": {"type": "point", "shape": "M-0.5,-1.2L0,0L0.5,-1.2Z", "size": 144, "filled": true, "color": "#222222", "opacity": 1}, "encoding": {}},
    {"data": {"values": [{"d": 119.2, "v": 15.76, "t": "EARS-C3"}]}, "mark": {"type": "text", "fontSize": 19}, "encoding": {"text": {"field": "t"}}},
    {"data": {"values": [{"d": 35.1, "v": 15.76, "t": "False positive"}, {"d": 98.6, "v": 4.67, "t": "Advanced 2-day"}, {"d": 191.6, "v": 15.4, "t": "False Positive"}, {"d": 295.2, "v": 14.34, "t": "False positive"}, {"d": 323.5, "v": 8.0, "t": "Advanced 2-day"}]}, "mark": {"type": "text", "fontSize": 17.5}, "encoding": {"text": {"field": "t"}}},
    {"data": {"values": [{"d": 10.2, "v": 11.33, "t": "Detected"}]}, "mark": {"type": "text", "fontSize": 17.5, "angle": 40}, "encoding": {"text": {"field": "t"}}},
    {"data": {"values": [{"d": 149.4, "v": 8.0, "t": "Advanced 1-day"}]}, "mark": {"type": "text", "fontSize": 17.5, "angle": 12}, "encoding": {"text": {"field": "t"}}},
    {"data": {"values": [{"d": 254.6, "v": 11.9, "t": "Delayed 1-day"}]}, "mark": {"type": "text", "fontSize": 17.5, "angle": -45}, "encoding": {"text": {"field": "t"}}}
  ]
}
],
"spacing": 5,
"bounds": "flush"
}
